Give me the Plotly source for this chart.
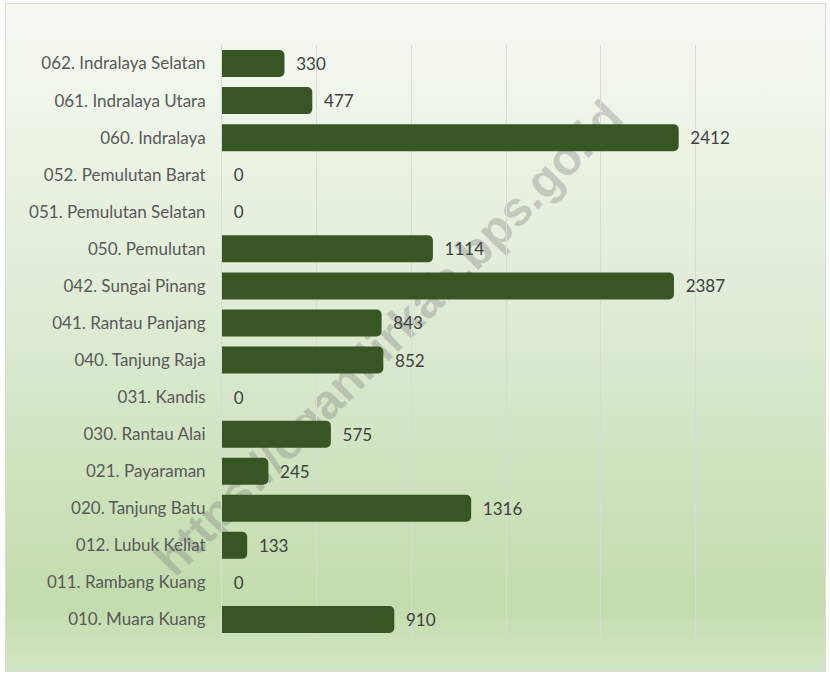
import base64
import plotly.graph_objects as go

categories = [
    "062. Indralaya Selatan", "061. Indralaya Utara", "060. Indralaya",
    "052. Pemulutan Barat", "051. Pemulutan Selatan", "050. Pemulutan",
    "042. Sungai Pinang", "041. Rantau Panjang", "040. Tanjung Raja",
    "031. Kandis", "030. Rantau Alai", "021. Payaraman",
    "020. Tanjung Batu", "012. Lubuk Keliat", "011. Rambang Kuang",
    "010. Muara Kuang",
]
values = [330, 477, 2412, 0, 0, 1114, 2387, 843, 852, 0, 575, 245, 1316, 133, 0, 910]
x_ticks = [0, 500, 1000, 1500, 2000, 2500, 3000]
watermark = "https://oganilirkab.bps.go.id"

W, H = 830, 675
L, R, T, B = 222, 40, 45, 37
pw, ph = W - L - R, H - T - B
FONT = "Lato, Open Sans, sans-serif"

svg = f'''<svg xmlns="http://www.w3.org/2000/svg" width="{W}" height="{H}" viewBox="0 0 {W} {H}" preserveAspectRatio="none">
<defs><linearGradient id="g" x1="0" y1="0" x2="0" y2="1">
<stop offset="0" stop-color="#f6faf3"/>
<stop offset="0.45" stop-color="#dfecd6"/>
<stop offset="0.9" stop-color="#c2dcac"/>
<stop offset="1" stop-color="#d3e6c5"/>
</linearGradient></defs>
<rect x="0" y="0" width="{W}" height="{H}" fill="#ffffff"/>
<rect x="5.5" y="3.5" width="{W-10}" height="{H-7}" fill="url(#g)" stroke="#d9d9d9" stroke-width="1"/>
</svg>'''
src = "data:image/svg+xml;base64," + base64.b64encode(svg.encode()).decode()

fig = go.Figure()
fig.add_trace(go.Bar(
    y=categories, x=values, orientation="h",
    marker=dict(color="#375623", line=dict(width=0)),
    text=[str(v) for v in values], texttemplate="\u00a0\u00a0%{text}",
    textposition="outside",
    textfont=dict(family=FONT, size=17, color="#404040"),
    cliponaxis=False, hoverinfo="x+y",
))

fig.update_layout(
    width=W, height=H,
    margin=dict(l=L, r=R, t=T, b=B),
    paper_bgcolor="#ffffff", plot_bgcolor="rgba(0,0,0,0)",
    bargap=0.27, barcornerradius=5, showlegend=False,
    font=dict(family=FONT, size=17, color="#595959"),
    images=[dict(source=src, xref="paper", yref="paper",
                 x=-L / pw, y=1 + T / ph, sizex=W / pw, sizey=H / ph,
                 sizing="stretch", xanchor="left", yanchor="top", layer="below")],
    shapes=[dict(type="rect", xref="paper", yref="paper",
                 x0=0.157, x1=0.417, y0=0.412, y1=0.612,
                 line=dict(width=0), fillcolor="rgba(0,0,0,0)", layer="below",
                 label=dict(text=watermark, textangle=-45.5, textposition="middle center",
                            font=dict(family="Liberation Sans, Arial, sans-serif", size=48,
                                      color="rgba(125,125,125,0.35)", weight="bold")))],
)
fig.update_xaxes(range=[0, 3000], tickvals=x_ticks, showticklabels=False,
                 showgrid=True, gridcolor="#d9d9d9", gridwidth=1,
                 zeroline=False, showline=False, fixedrange=True)
fig.update_yaxes(autorange="reversed", showgrid=False, showline=True,
                 linecolor="#d9d9d9", ticks="", ticklabelstandoff=12,
                 tickfont=dict(family=FONT, size=17, color="#595959"), fixedrange=True)

fig.write_html("out.html", config={"displayModeBar": False})
with open("out.html", encoding="utf-8") as f:
    html = f.read()
html = html.replace("<body>", '<body style="margin:0;padding:0;overflow:hidden">', 1)
with open("out.html", "w", encoding="utf-8") as f:
    f.write(html)
